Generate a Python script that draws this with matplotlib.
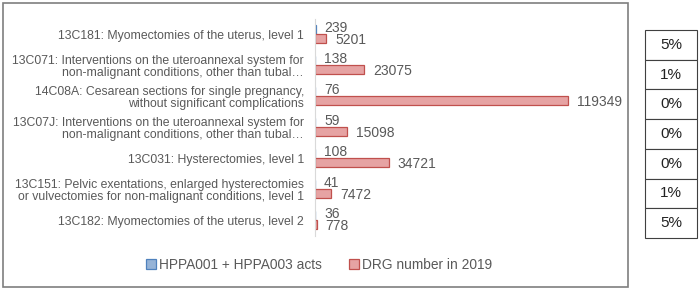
import matplotlib
matplotlib.use('Agg')
import matplotlib.pyplot as plt
from matplotlib.patches import Rectangle

plt.rcParams['font.family'] = ['Liberation Sans', 'DejaVu Sans']

categories = [
    '13C181: Myomectomies of the uterus, level 1',
    '13C071: Interventions on the uteroannexal system for\nnon-malignant conditions, other than tubal\u2026',
    '14C08A: Cesarean sections for single pregnancy,\nwithout significant complications',
    '13C07J: Interventions on the uteroannexal system for\nnon-malignant conditions, other than tubal\u2026',
    '13C031: Hysterectomies, level 1',
    '13C151: Pelvic exentations, enlarged hysterectomies\nor vulvectomies for non-malignant conditions, level 1',
    '13C182: Myomectomies of the uterus, level 2',
]
hppa_acts = [239, 138, 76, 59, 108, 41, 36]
drg_2019 = [5201, 23075, 119349, 15098, 34721, 7472, 778]
ratio_labels = ['5%', '1%', '0%', '0%', '0%', '1%', '5%']

W, H = 700, 290
fig = plt.figure(figsize=(7, 2.9), dpi=100)

# outer frame of the chart
fig.patches.append(Rectangle((3 / W, 3 / H), 625 / W, 284 / H, transform=fig.transFigure,
                             fill=False, edgecolor='#7f7f7f', lw=1.2))

ax = fig.add_axes([315 / W, 54.5 / H, 305 / W, 217 / H])
ypos = list(range(len(categories)))
bh = 0.28
off = 0.155
b1 = ax.barh([y - off for y in ypos], hppa_acts, height=bh, color='#95b3d7',
             edgecolor='#4f81bd', lw=0.9, label='HPPA001 + HPPA003 acts')
b2 = ax.barh([y + off for y in ypos], drg_2019, height=bh, color='#e6a3a3',
             edgecolor='#c0504d', lw=0.9, label='DRG number in 2019')

for y, v in zip(ypos, hppa_acts):
    ax.annotate(str(v), (v, y - off), xytext=(9, 1), textcoords='offset pixels',
                ha='left', va='center', fontsize=10, color='#595959')
for y, v in zip(ypos, drg_2019):
    ax.annotate(str(v), (v, y + off), xytext=(9, -1), textcoords='offset pixels',
                ha='left', va='center', fontsize=10, color='#595959')

ax.set_xlim(0, 119349 * 305 / 253)
ax.set_ylim(len(categories) - 0.5, -0.5)
ax.set_yticks(ypos)
ax.set_yticklabels(categories, fontsize=8.8, color='#595959', linespacing=1.05)
ax.set_xticks([])
ax.tick_params(axis='y', length=0, pad=8)
for s in ['top', 'right', 'bottom']:
    ax.spines[s].set_visible(False)
ax.spines['left'].set_color('#d9d9d9')
ax.patch.set_visible(False)

fig.legend(handles=[b1, b2], loc='center', bbox_to_anchor=(319 / W, 25 / H), ncol=2,
           frameon=False, fontsize=9.9, handlelength=0.7, handleheight=0.7,
           handletextpad=0.2, columnspacing=2.0, labelcolor='#595959')

# ratio table on the right
tax = fig.add_axes([645 / W, 52 / H, 52 / W, 208 / H])
tax.set_axis_off()
tbl = tax.table(cellText=[[r] for r in ratio_labels], cellLoc='center', bbox=[0, 0, 1, 1])
tbl.auto_set_font_size(False)
for (r, c), cell in tbl.get_celld().items():
    cell.set_edgecolor('#404040')
    cell.set_linewidth(0.8)
    cell.get_text().set_fontsize(11)
    cell.get_text().set_color('#222222')

fig.savefig('out.png', dpi=100)
